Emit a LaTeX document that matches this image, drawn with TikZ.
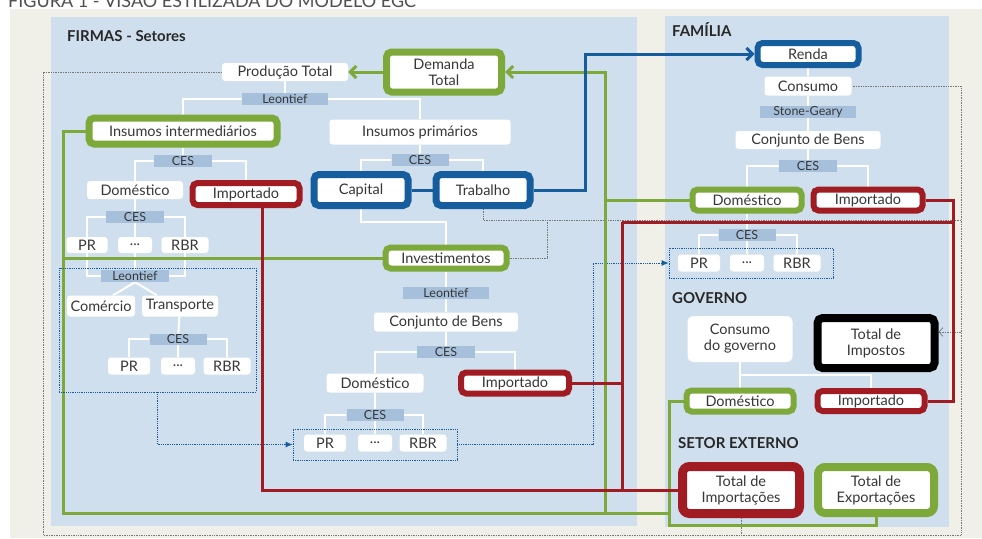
\documentclass[tikz,border=0pt]{standalone}
\usepackage{fontspec}
\setmainfont{Lato}
\usetikzlibrary{arrows.meta,calc}

\definecolor{egreen}{RGB}{125,169,59}
\definecolor{ered}{RGB}{160,28,34}
\definecolor{eblue}{RGB}{22,93,158}
\definecolor{tagblue}{RGB}{166,192,219}
\definecolor{panelblue}{RGB}{207,223,237}
\definecolor{beige}{RGB}{240,239,232}
\definecolor{txtgray}{RGB}{55,55,55}
\definecolor{headgray}{RGB}{40,40,40}
\definecolor{titlegray}{RGB}{80,80,80}
\definecolor{dotgray}{RGB}{120,120,120}

\newcommand{\mainfs}{\fontsize{14.5}{16}\selectfont}
\newcommand{\tagfs}{\fontsize{12.5}{13}\selectfont}
\newcommand{\headfs}{\fontsize{15}{17}\selectfont\bfseries}
\newcommand{\titlefs}{\fontsize{18}{20}\selectfont}

\pgfdeclarelayer{back}
\pgfdeclarelayer{wires}
\pgfsetlayers{back,wires,main}

\begin{document}
\begin{tikzpicture}[x=1pt, y=-1pt,
  every node/.style={text=txtgray},
  plainbox/.style={fill=white, rounded corners=3pt, inner sep=0pt, minimum height=18pt, font=\mainfs},
  tagbox/.style={fill=tagblue, inner sep=0pt, minimum height=12pt, minimum width=58pt, font=\tagfs},
  framebox/.style={fill=white, line width=6pt, rounded corners=5pt, inner sep=0pt, align=center, font=\mainfs},
  gframe/.style={framebox, draw=egreen},
  rframe/.style={framebox, draw=ered},
  bframe/.style={framebox, draw=eblue},
  kframe/.style={framebox, draw=black, line width=8pt},
  heading/.style={anchor=west, inner sep=0pt, font=\headfs, text=headgray},
  tree/.style={draw=white, line width=2pt},
  gline/.style={draw=egreen, line width=3pt},
  rline/.style={draw=ered, line width=3pt},
  bline/.style={draw=eblue, line width=3pt},
  barb/.style={-{Straight Barb[length=6pt,width=12pt]}},
  gdot/.style={draw=dotgray, densely dotted, line width=0.7pt},
  bdot/.style={draw=eblue, densely dotted, line width=0.8pt},
  grpbox/.style={bdot, inner sep=0pt},
]

\useasboundingbox (0,0) rectangle (982,538);

% title (cut off at the top)
\node[anchor=base west, inner sep=0pt, font=\titlefs, text=titlegray] (title) at (8,7) {FIGURA 1 - VISÃO ESTILIZADA DO MODELO EGC};

% panels
\begin{pgfonlayer}{back}
\fill[beige] (10,9) rectangle (982,538);
\fill[panelblue] (51,17) rectangle (637,526);
\fill[panelblue] (665,16) rectangle (949,527);
\end{pgfonlayer}

% headings
\node[heading] (hfirm) at (67,36) {FIRMAS - Setores};
\node[heading] (hfam) at (672,30) {FAMÍLIA};
\node[heading] (hgov) at (672,298) {GOVERNO};
\node[heading] (hext) at (678,443) {SETOR EXTERNO};

% firms - top
\node[plainbox, minimum width=126pt] (prod) at (285,72) {Produção Total};
\node[gframe, line width=7pt, minimum width=115pt, minimum height=40pt] (demanda) at (444,72) {Demanda\\Total};
\node[tagbox, minimum width=86pt] (leon1) at (285,99) {Leontief};
\node[gframe, line width=7pt, minimum width=188pt, minimum height=26pt] (insint) at (183,131) {Insumos intermediários};
\node[plainbox, minimum width=181pt, minimum height=25pt] (insprim) at (420,132) {Insumos primários};
\node[tagbox] (ces1) at (183,161) {CES};
\node[tagbox, minimum width=57pt] (ces2) at (420,160) {CES};
\node[plainbox, minimum width=96pt] (domfirm) at (135,190) {Doméstico};
\node[rframe, minimum width=107pt, minimum height=22pt] (impfirm) at (246,194) {Importado};
\node[bframe, line width=7pt, minimum width=94pt, minimum height=31pt] (capital) at (361,190) {Capital};
\node[bframe, line width=7pt, minimum width=94pt, minimum height=31pt] (trabalho) at (483,190) {Trabalho};

% firms - domestic branch
\node[tagbox] (ces3) at (135,217) {CES};
\node[plainbox, minimum width=41pt, minimum height=16pt] (pr1) at (87,245) {PR};
\node[plainbox, minimum width=34pt, minimum height=16pt] (dots1) at (135,245) {...};
\node[plainbox, minimum width=47pt, minimum height=16pt] (rbr1) at (185,245) {RBR};
\node[tagbox, minimum width=68pt] (leon2) at (135,276) {Leontief};
\node[plainbox, minimum width=68pt, minimum height=21pt] (comercio) at (101,306) {Comércio};
\node[plainbox, minimum width=76pt, minimum height=21pt] (transporte) at (180,306) {Transporte};
\node[tagbox, minimum width=57pt, minimum height=11pt] (ces4) at (178,339) {CES};
\node[plainbox, minimum width=42pt, minimum height=17pt] (pr2) at (129,366) {PR};
\node[plainbox, minimum width=34pt, minimum height=17pt] (dots2) at (178,366) {...};
\node[plainbox, minimum width=47pt, minimum height=17pt] (rbr2) at (227,366) {RBR};

% firms - investment
\node[gframe, minimum width=121pt, minimum height=21pt] (invest) at (446,258) {Investimentos};
\node[tagbox, minimum width=86pt] (leon3) at (446,293) {Leontief};
\node[plainbox, minimum width=144pt, minimum height=19pt] (conj1) at (446,322) {Conjunto de Bens};
\node[tagbox] (ces5) at (446,352) {CES};
\node[plainbox, minimum width=97pt, minimum height=19pt] (dominv) at (375,383) {Doméstico};
\node[rframe, minimum width=108pt, minimum height=21pt] (impinv) at (515,383) {Importado};
\node[tagbox, minimum width=57pt] (ces6) at (375,415) {CES};
\node[plainbox, minimum width=42pt, minimum height=17pt] (pr3) at (325,443) {PR};
\node[plainbox, minimum width=34pt, minimum height=17pt] (dots3) at (375,443) {...};
\node[plainbox, minimum width=47pt, minimum height=17pt] (rbr3) at (423,443) {RBR};

% groups (blue dotted)
\node[grpbox, minimum width=197pt, minimum height=124pt] (grp1) at (157.5,330) {};
\node[grpbox, minimum width=164pt, minimum height=31pt] (grp2) at (375,444.5) {};
\node[grpbox, minimum width=164pt, minimum height=30pt] (grp3) at (751,263) {};

% family
\node[bframe, minimum width=101pt, minimum height=22pt] (renda) at (808,54) {Renda};
\node[plainbox, minimum width=87pt, minimum height=19pt] (consumo) at (808,86) {Consumo};
\node[tagbox, minimum width=96pt] (stone) at (808,112) {Stone-Geary};
\node[plainbox, minimum width=145pt] (conj2) at (808,140) {Conjunto de Bens};
\node[tagbox] (ces7) at (808,166) {CES};
\node[gframe, minimum width=109pt, minimum height=21pt] (domfam) at (747,200) {Doméstico};
\node[rframe, minimum width=109pt, minimum height=21pt] (impfam) at (868,200) {Importado};
\node[tagbox, minimum width=57pt] (ces8) at (747,235) {CES};
\node[plainbox, minimum width=42pt, minimum height=17pt] (pr4) at (699,263) {PR};
\node[plainbox, minimum width=34pt, minimum height=17pt] (dots4) at (747,263) {...};
\node[plainbox, minimum width=47pt, minimum height=17pt] (rbr4) at (797,263) {RBR};

% government
\node[plainbox, rounded corners=6pt, minimum width=105pt, minimum height=46pt, align=center] (consgov) at (740,339) {Consumo\\do governo};
\node[kframe, minimum width=117pt, minimum height=50pt] (totimpostos) at (876,343) {Total de\\Impostos};
\node[gframe, minimum width=107pt, minimum height=21pt] (domgov) at (740,401) {Doméstico};
\node[rframe, minimum width=107pt, minimum height=20pt] (impgov) at (871,401) {Importado};

% external sector
\node[rframe, line width=9pt, rounded corners=7pt, minimum width=117pt, minimum height=47pt] (totimp) at (741,490) {Total de\\Importações};
\node[gframe, line width=8pt, rounded corners=7pt, minimum width=116pt, minimum height=46pt] (totexp) at (876,490) {Total de\\Exportações};

% named points of the wires
\coordinate (g0) at (63,513);
\coordinate (g1) at (605,513);
\coordinate (g2) at (669,513);
\coordinate (g3) at (669,525);
\coordinate (r1) at (622,222);
\coordinate (r2) at (953,222);
\coordinate (oBL) at (43,535);
\coordinate (oTR) at (961,86);
\coordinate (gd1) at (961,220);
\coordinate (gd2) at (547,220);
\coordinate (bd1) at (593,263);

\begin{pgfonlayer}{wires}
% white trees
\draw[tree] (prod) -- (leon1);
\draw[tree] (insint) |- (leon1) -| (insprim);
\draw[tree] (insint) -- (ces1);
\draw[tree] (domfirm) |- (ces1) -| (impfirm);
\draw[tree] (insprim) -- (ces2);
\draw[tree] (capital) |- (ces2) -| (trabalho);
\draw[tree] (domfirm) -- (ces3) -- (dots1) -- (leon2);
\draw[tree] (pr1) |- (ces3) -| (rbr1);
\draw[tree] (pr1) |- (leon2) -| (rbr1);
\draw[tree] (leon2.south) -- ([xshift=12pt]comercio.north);
\draw[tree] (leon2.south) -- ([xshift=-23pt]transporte.north);
\draw[tree] (transporte) -- (ces4) -- (dots2);
\draw[tree] (pr2) |- (ces4) -| (rbr2);
\draw[tree] (capital.south) -- ++(0,13) -| (invest.north);
\draw[tree] (invest) -- (leon3) -- (conj1) -- (ces5);
\draw[tree] (dominv) |- (ces5) -| (impinv);
\draw[tree] (dominv) -- (ces6) -- (dots3);
\draw[tree] (pr3) |- (ces6) -| (rbr3);
\draw[tree] (renda) -- (consumo) -- (stone) -- (conj2) -- (ces7);
\draw[tree] (domfam) |- (ces7) -| (impfam);
\draw[tree] (domfam) -- (ces8) -- (dots4);
\draw[tree] (pr4) |- (ces8) -| (rbr4);
\draw[tree] (consgov) -- (domgov);
\draw[tree] ($(consgov.south)!0.5!(domgov.north)$) -| (impgov);

% gray dotted loop
\draw[gdot] (prod.west) -| (oBL) -| (oTR) -- (consumo.east);
\draw[gdot] (totimp.south) -- (totimp.south |- oBL);
\draw[gdot] (trabalho.south) |- (gd1);
\draw[gdot] (invest.east) -| (gd2);
\draw[gdot, -{Straight Barb[length=4pt,width=9pt]}] ([yshift=11pt]totimpostos.east -| oTR) -- ([yshift=11pt]totimpostos.east);

% blue dotted
\draw[bdot, -{Latex[length=7pt,width=6pt]}] (grp1.south) |- (grp2.west);
\draw[bdot, -{Latex[length=7pt,width=6pt]}] (grp2.east) -| (bd1) -- (grp3.west);

% green
\draw[gline, barb] (demanda.west) -- (prod.east);
\draw[gline] (insint.west) -| (g0) -- (g2) |- (domgov.west);
\draw[gline] (invest.west) -- (invest.west -| g0);
\draw[gline, barb] (g1) |- (domfam.west) (g1 |- domfam.west) |- (demanda.east);
\draw[gline] (g2) -- (g3) -| (totexp.south);

% red
\draw[rline] ([xshift=16pt]impfirm.south) |- (totimp.west);
\draw[rline] (r1) -- (r1 |- totimp.west);
\draw[rline] (impinv.east) -- (impinv.east -| r1);
\draw[rline] (r1) -- (r2);
\draw[rline] (impfam.east) -| (r2) |- (impgov.east);

% blue
\draw[bline] (capital) -- (trabalho);
\draw[bline, barb] (trabalho.east) -- ++(52,0) |- (renda.west);
\end{pgfonlayer}

\end{tikzpicture}
\end{document}
